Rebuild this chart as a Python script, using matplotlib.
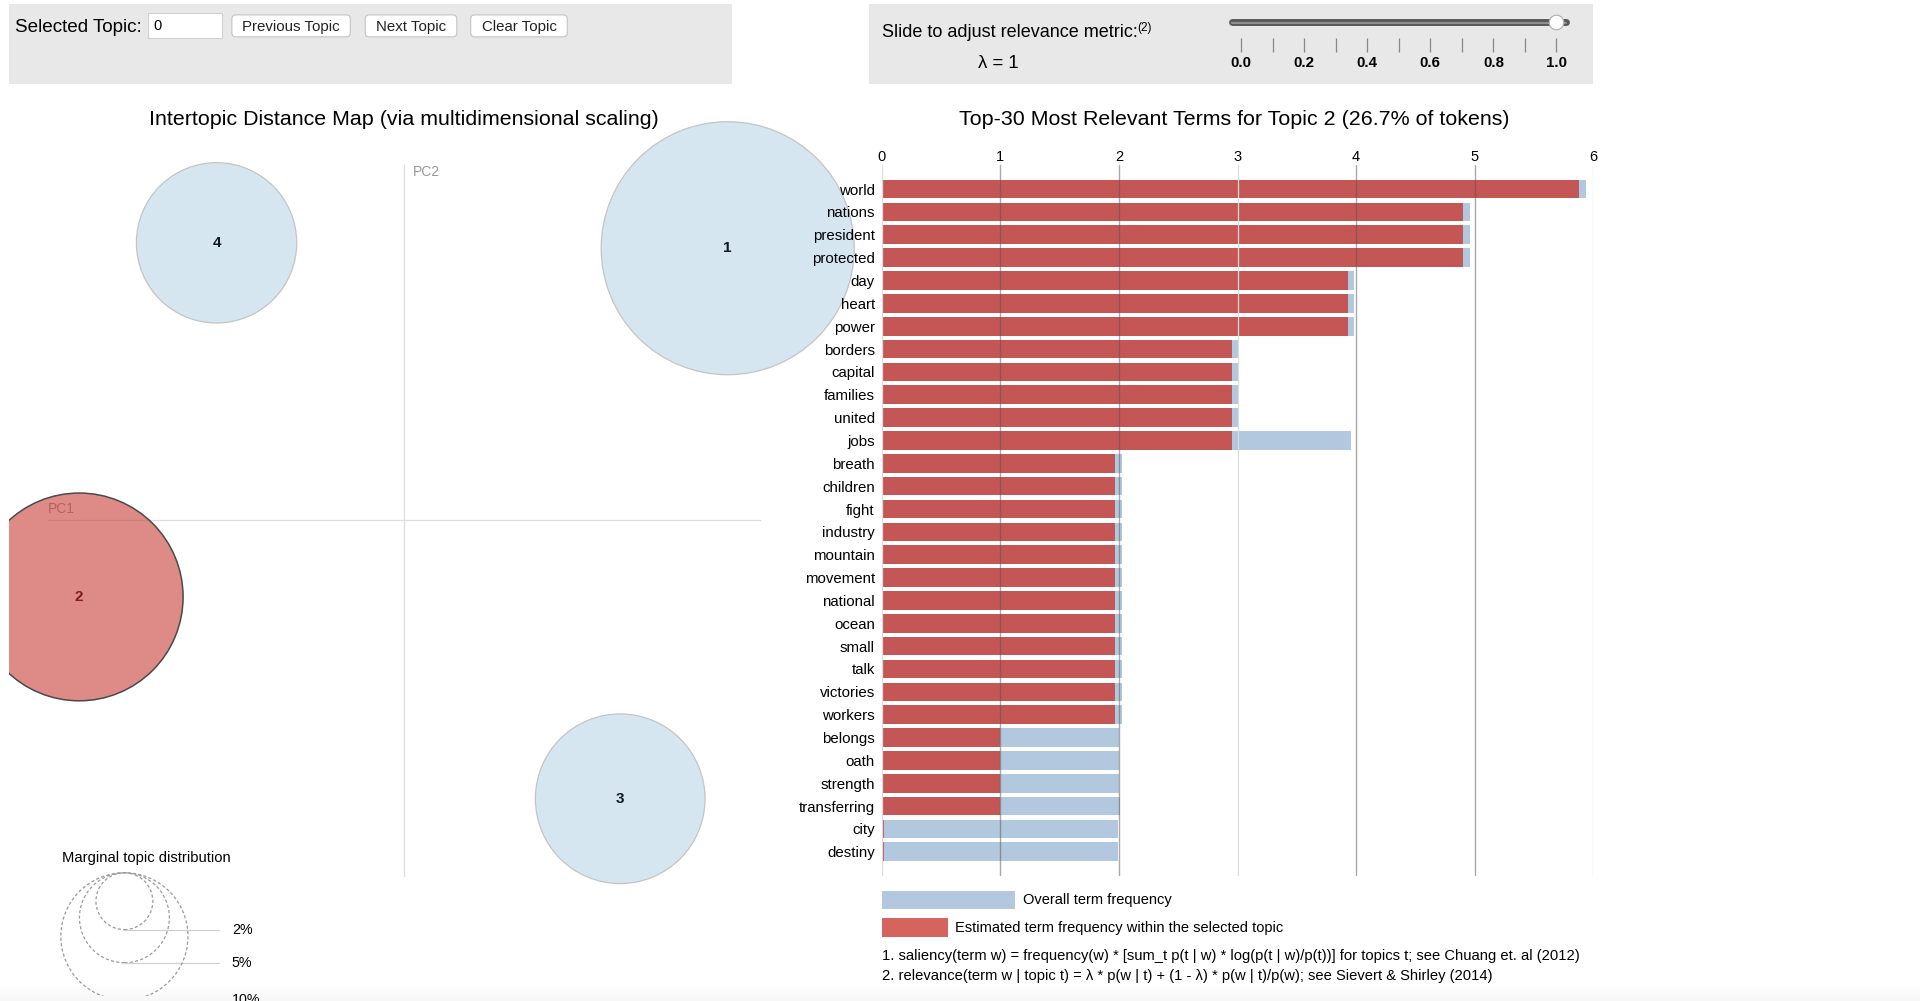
import matplotlib as mpl
mpl.use('Agg')
import matplotlib.pyplot as plt
from matplotlib.patches import Circle, Rectangle, FancyBboxPatch
import numpy as np

plt.rcParams['font.family'] = ['Liberation Sans', 'DejaVu Sans']

# intertopic distance map (PC coordinates and marginal share in %)
topic_ids = ['1', '2', '3', '4']
topic_pc1 = [0.271, -0.272, 0.181, -0.157]
topic_pc2 = [0.228, -0.064, -0.233, 0.2325]
topic_pct = [39.6, 26.7, 17.8, 15.9]
selected = '2'
marginal_pct = [2, 5, 10]

# top-30 relevant terms for the selected topic
terms = ['world', 'nations', 'president', 'protected', 'day', 'heart', 'power',
         'borders', 'capital', 'families', 'united', 'jobs', 'breath', 'children',
         'fight', 'industry', 'mountain', 'movement', 'national', 'ocean', 'small',
         'talk', 'victories', 'workers', 'belongs', 'oath', 'strength',
         'transferring', 'city', 'destiny']
total_freq = [5.94, 4.96, 4.96, 4.96, 3.98, 3.98, 3.98, 3.0, 3.0, 3.0, 3.0, 3.96,
              2.03, 2.03, 2.03, 2.03, 2.03, 2.03, 2.03, 2.03, 2.03, 2.03, 2.03, 2.03,
              2.0, 2.0, 2.0, 2.01, 1.99, 1.99]
topic_freq = [5.88, 4.9, 4.9, 4.9, 3.93, 3.93, 3.93, 2.95, 2.95, 2.95, 2.95, 2.95,
              1.97, 1.97, 1.97, 1.97, 1.97, 1.97, 1.97, 1.97, 1.97, 1.97, 1.97, 1.97,
              1.0, 1.0, 1.0, 1.0, 0.02, 0.02]
freq_ticks = [0, 1, 2, 3, 4, 5, 6]

# relevance slider
lam = 1
lam_major = [0.0, 0.2, 0.4, 0.6, 0.8, 1.0]
lam_minor = [0.1, 0.3, 0.5, 0.7, 0.9]

buttons = ['Previous Topic', 'Next Topic', 'Clear Topic']
notes = ['1. saliency(term w) = frequency(w) * [sum_t p(t | w) * log(p(t | w)/p(t))] for topics t; see Chuang et. al (2012)',
         '2. relevance(term w | topic t) = \u03bb * p(w | t) + (1 - \u03bb) * p(w | t)/p(w); see Sievert & Shirley (2014)']

W, H = 1920, 1001
F = 0.9952  # layout measured on a slightly larger grid
BLUE = '#b2c8de'
RED = '#c45655'


def box(x0, y0, x1, y1):
    return [x0 * F / W, 1 - y1 * F / H, (x1 - x0) * F / W, (y1 - y0) * F / H]


fig = plt.figure(figsize=(W / 100, H / 100), dpi=100)

# ---- page furniture (panels, buttons, titles, legend) ----
ui = fig.add_axes([0, 0, 1, 1])
ui.set_xlim(0, W / F)
ui.set_ylim(H / F, 0)
ui.axis('off')

ui.add_patch(Rectangle((9, 4), 727, 80, fc='#e8e8e8', ec='none'))
ui.add_patch(Rectangle((873, 4), 728, 80, fc='#e8e8e8', ec='none'))
ui.text(15, 27.5, 'Selected Topic:', fontsize=13.6, va='center')
ui.add_patch(Rectangle((149, 13), 74, 25, fc='white', ec='#d0d0d0', lw=0.8))
ui.text(154, 26, '0', fontsize=10.5, va='center')
bx = [(233, 352), (367, 459), (473, 570)]
for lab, (x0, x1) in zip(buttons, bx):
    ui.add_patch(FancyBboxPatch((x0, 15), x1 - x0, 22,
                                boxstyle='round,pad=0,rounding_size=4',
                                fc='white', ec='#c4c4c4', lw=0.8))
    ui.text((x0 + x1) / 2, 27, lab, fontsize=10.8, ha='center', va='center',
            color='#222')

t = ui.text(886, 33, 'Slide to adjust relevance metric:', fontsize=13, va='center')
ui.annotate('(2)', xy=(1, 0.8), xycoords=t, fontsize=8.5, va='center', ha='left')
ui.text(1003, 64, '\u03bb = %g' % lam, fontsize=13.4, ha='center', va='center')

ui.text(406, 120.5, 'Intertopic Distance Map (via multidimensional scaling)',
        fontsize=15.4, ha='center', va='center')
sel_pct = topic_pct[topic_ids.index(selected)]
ui.text(1240, 120.5, 'Top-%d Most Relevant Terms for Topic %s (%.1f%% of tokens)'
        % (len(terms), selected, sel_pct), fontsize=15.4, ha='center', va='center')

ui.add_patch(Rectangle((886, 895), 134, 18, fc=BLUE, ec='none'))
ui.text(1028, 904, 'Overall term frequency', fontsize=10.5, va='center')
ui.add_patch(Rectangle((886, 922), 67, 20, fc='#d5645e', ec='none'))
ui.text(960, 932, 'Estimated term frequency within the selected topic',
        fontsize=10.5, va='center')
ui.text(886, 961, notes[0], fontsize=10.6, va='center')
ui.text(886, 981, notes[1], fontsize=10.6, va='center')
ui.text(62, 862, 'Marginal topic distribution', fontsize=10.6, va='center')

# ---- slider ----
sl = fig.add_axes(box(1247, 15, 1564, 52))
sl.set_xlim(0, 1)
sl.set_ylim(0, 1)
sl.patch.set_visible(False)
for s in sl.spines.values():
    s.set_visible(False)
sl.set_yticks([])
sl.set_xticks(lam_major, ['%.1f' % v for v in lam_major])
sl.set_xticks(lam_minor, minor=True)
sl.tick_params(which='both', direction='in', length=10, width=0.9, color='#888', pad=3)
for lab in sl.get_xticklabels():
    lab.set_fontweight('bold')
    lab.set_fontsize(10.8)
sl.plot([-0.03, 1.03], [0.81, 0.81], lw=5, color='#5a5a5a', solid_capstyle='round',
        clip_on=False)
sl.plot([-0.03, 1.03], [0.78, 0.78], lw=1.2, color='#9a9a9a', clip_on=False)
sl.plot([lam], [0.81], 'o', ms=10.5, mfc='white', mec='#b0b0b0', mew=0.8, clip_on=False)

# ---- intertopic distance map ----
S = 1200.0  # px per PC unit
ox, oy = 406, 523
mds = fig.add_axes(box(9, 100, 880, 1001))
mds.set_xlim((9 - ox) / S, (880 - ox) / S)
mds.set_ylim((oy - 1001) / S, (oy - 100) / S)
mds.axis('off')
ext = 0.298
mds.plot([0, 0], [-ext, ext], color='#dddddd', lw=0.9, zorder=1)
mds.plot([-ext, ext], [0, 0], color='#dddddd', lw=0.9, zorder=1)
mds.annotate('PC1', (-ext, 0), xytext=(0, 3), textcoords='offset points',
             fontsize=10, color='#999', ha='left', va='bottom', zorder=1)
mds.annotate('PC2', (0, ext), xytext=(6, -5), textcoords='offset points',
             fontsize=10, color='#999', ha='left', va='center', zorder=1)

k = 20.2 / S  # radius per sqrt(%)
for tid, x, y, p in zip(topic_ids, topic_pc1, topic_pc2, topic_pct):
    r = k * np.sqrt(p)
    if tid == selected:
        mds.add_patch(Circle((x, y), r, fc=(0.79, 0.24, 0.21, 0.6), ec='#4a4a4a', lw=1.1,
                             zorder=2))
        col = '#7d1d1d'
    else:
        mds.add_patch(Circle((x, y), r, fc=(0.12, 0.47, 0.71, 0.18), ec='#c4c4c4',
                             lw=0.9, zorder=2))
        col = '#111a24'
    mds.text(x, y, tid, ha='center', va='center', fontsize=11, fontweight='bold',
             color=col, zorder=3)

lx, ltop = (125 - ox) / S, (oy - 877) / S
for p in marginal_pct:
    r = k * np.sqrt(p)
    mds.add_patch(Circle((lx, ltop - r), r, fc='none', ec='#9a9a9a', lw=0.9,
                         ls=(0, (2.5, 1.8)), zorder=2))
    mds.plot([lx, (220 - ox) / S], [ltop - 2 * r] * 2, color='#d0d0d0', lw=0.9)
    mds.text((233 - ox) / S, ltop - 2 * r, '%d%%' % p, fontsize=10.3, va='center')

# ---- bar chart of relevant terms ----
ax = fig.add_axes(box(886, 166, 1601, 880))
ypos = np.arange(len(terms))
ax.barh(ypos, total_freq, height=0.815, color=BLUE, zorder=1)
ax.barh(ypos, topic_freq, height=0.815, color=RED, zorder=2)
ax.set_xlim(0, 6)
ax.set_ylim(30.05, -1.045)
ax.patch.set_visible(False)
for s in ax.spines.values():
    s.set_visible(False)
for v in freq_ticks:
    if v in (0, 3, 6):
        ax.axvline(v, color='#dcdcdc', lw=0.9, zorder=3)
    else:
        ax.axvline(v, color='#555', lw=1.0, alpha=0.5, zorder=3)
ax.xaxis.tick_top()
ax.set_xticks(freq_ticks)
ax.tick_params(axis='x', length=0, pad=1.0, labelsize=10.5)
ax.set_yticks(ypos, terms)
ax.tick_params(axis='y', length=0, pad=5, labelsize=10.8)

# faint browser shadow at the bottom
sh = fig.add_axes([0, 0, 1, 17 / H])
sh.axis('off')
grad = np.zeros((20, 2, 4))
grad[..., :3] = 0.55
grad[..., 3] = np.linspace(0, 0.07, 20)[:, None]
sh.imshow(grad, aspect='auto', extent=[0, 1, 0, 1], origin='upper')

fig.savefig('out.png', dpi=100)
